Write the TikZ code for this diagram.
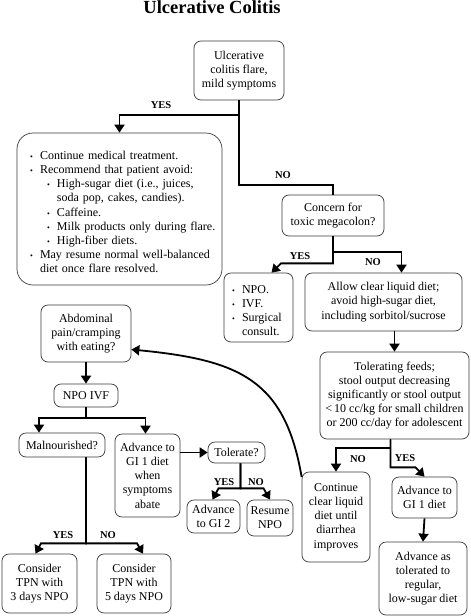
\documentclass[tikz,border=0pt]{standalone}
\usepackage{fontspec}
\setmainfont{Liberation Serif}
\usepackage{enumitem}
\usepackage{xcolor}
\usepackage{tikz}
\usetikzlibrary{arrows.meta}
\definecolor{boxline}{HTML}{3A3A3A}
\definecolor{ink}{HTML}{000000}
\newcommand{\boxfont}{\fontsize{12}{14.2}\selectfont}
\newcommand{\dotmark}{{\footnotesize\textbullet}}
\tikzset{
  box/.style={draw=boxline, line width=0.7pt, rounded corners=7pt, align=center, inner sep=2pt, font=\boxfont},
  listbox/.style={box, align=left, rounded corners=16pt},
  link/.style={draw=ink, line width=1.8pt},
  arr/.style={link, -{Triangle[width=10pt,length=8pt]}},
  yn/.style={font=\bfseries\fontsize{10.5}{12}\selectfont, inner sep=0pt}
}

\begin{document}
\begin{tikzpicture}[x=1pt,y=-1pt]
  \useasboundingbox (0,0) rectangle (471,616);
  \node[font=\bfseries\fontsize{18.5}{20}\selectfont, anchor=base] (title) at (212,13.5) {Ulcerative Colitis};

  % top part
  \node[box, minimum width=90pt, minimum height=59pt] (flare) at (239,70.5) {Ulcerative\\colitis flare,\\mild symptoms};
  \node[listbox, text width=195pt, inner xsep=5pt, minimum height=152pt] (advice) at (119.5,209) {%
    \begin{itemize}[nosep, leftmargin=18pt, labelsep=7pt, label=\dotmark]
      \item Continue medical treatment.
      \item Recommend that patient avoid:
      \begin{itemize}[nosep, leftmargin=17pt, labelsep=7pt, label=\dotmark]
        \item High-sugar diet (i.e., juices,\newline soda pop, cakes, candies).
        \item Caffeine.
        \item Milk products only during flare.
        \item High-fiber diets.
      \end{itemize}
      \item May resume normal well-balanced\newline diet once flare resolved.
    \end{itemize}};
  \node[box, minimum width=102pt, minimum height=41pt] (concern) at (333,215.5) {Concern for\\toxic megacolon?};
  \node[listbox, rounded corners=7pt, text width=57pt, inner xsep=6pt, minimum height=69pt] (npo) at (258.5,307.5) {%
    \begin{itemize}[nosep, leftmargin=12pt, labelsep=7pt, label=\dotmark]
      \item NPO.
      \item IVF.
      \item Surgical\newline consult.
    \end{itemize}};
  \node[box, minimum width=157pt, minimum height=58pt] (allow) at (383.5,302) {Allow clear liquid diet;\\avoid high-sugar diet,\\including sorbitol/sucrose};
  \node[box, minimum width=149pt, minimum height=87pt] (feeds) at (394.5,395.5) {Tolerating feeds;\\stool output decreasing\\significantly or stool output\\{<}\,10 cc/kg for small children\\or 200 cc/day for adolescent};
  \node[box, minimum width=68pt, minimum height=90pt] (cont) at (336,517) {Continue\\clear liquid\\diet until\\diarrhea\\improves};
  \node[box, minimum width=65pt, minimum height=41pt] (gione) at (424.5,497.5) {Advance to\\GI 1 diet};
  \node[box, minimum width=88pt, minimum height=73pt] (regular) at (423,578.5) {Advance as\\tolerated to\\regular,\\low-sugar diet};

  % left part
  \node[box, minimum width=90pt, minimum height=57pt] (abd) at (86,333.5) {Abdominal\\pain/cramping\\with eating?};
  \node[box, minimum width=64pt, minimum height=23pt] (npoivf) at (86,395.5) {NPO IVF};
  \node[box, minimum width=86pt, minimum height=24pt] (mal) at (62,445) {Malnourished?};
  \node[box, minimum width=65pt, minimum height=83pt] (adv) at (147.5,475.5) {Advance to\\GI 1 diet\\when\\symptoms\\abate};
  \node[box, minimum width=57pt, minimum height=21pt] (tol) at (236.5,452.5) {Tolerate?};
  \node[box, minimum width=53pt, minimum height=33pt] (gitwo) at (213.5,516.5) {Advance\\to GI 2};
  \node[box, minimum width=46pt, minimum height=36pt] (resume) at (270,518) {Resume\\NPO};
  \node[box, minimum width=75pt, minimum height=59pt] (tpnthree) at (39.5,583.5) {Consider\\TPN with\\3 days NPO};
  \node[box, minimum width=74pt, minimum height=59pt] (tpnfive) at (134,583.5) {Consider\\TPN with\\5 days NPO};

  % connectors
  \draw[arr] (flare.south) -- ++(0,15) -| (advice.north);
  \draw[link] (flare.south) -- ++(0,85) -| (concern.north);
  \node[yn] at (161,105) {YES};
  \node[yn] at (283,175) {NO};

  \draw[arr] (concern.south) -- ++(0,27) -- ++(-52,0) -- ([xshift=13pt]npo.north);
  \draw[arr] (concern.south) -- ++(0,16) -| ([xshift=18pt]allow.north);
  \node[yn] at (300,256) {YES};
  \node[yn] at (373,262) {NO};

  \draw[arr] (feeds.north |- allow.south) -- (feeds.north);
  \draw[arr] ([xshift=-4pt]feeds.south) -- ++(0,9) -| (cont.north);
  \draw[arr] ([xshift=-4pt]feeds.south) -- ++(0,28) -- ++(25,0) -- (gione.north);
  \node[yn] at (358,459) {NO};
  \node[yn] at (405,458) {YES};
  \draw[arr] (gione.south) -- (regular.north);

  \draw[arr] ([yshift=40pt]cont.west) .. controls (285,380) and (240,360) .. ([yshift=-16pt]abd.east);

  \draw[arr] (abd.south) -- (npoivf.north);
  \draw[arr] (npoivf.south) -- ++(0,11) -| ([xshift=-23pt]mal.north);
  \draw[arr] (npoivf.south) -- ++(0,11) -| ([xshift=-2pt]adv.north);
  \draw[arr] (adv.east |- tol.west) -- (tol.west);

  \draw[arr] ([xshift=4pt]tol.south) -- ++(0,25) -- ++(-22,0) -- ([xshift=-1pt]gitwo.north);
  \draw[arr] ([xshift=4pt]tol.south) -- ++(0,25) -- ++(23,0) -- (resume.north);
  \node[yn] at (224,482) {YES};
  \node[yn] at (256,482) {NO};

  \draw[arr] (npoivf.south |- mal.south) -- ++(0,86) -- ++(-45,0) -- ([xshift=-4pt]tpnthree.north);
  \draw[arr] (npoivf.south |- mal.south) -- ++(0,86) -- ++(51,0) -- ([xshift=9pt]tpnfive.north);
  \node[yn] at (63,535) {YES};
  \node[yn] at (108,535) {NO};
\end{tikzpicture}
\end{document}
